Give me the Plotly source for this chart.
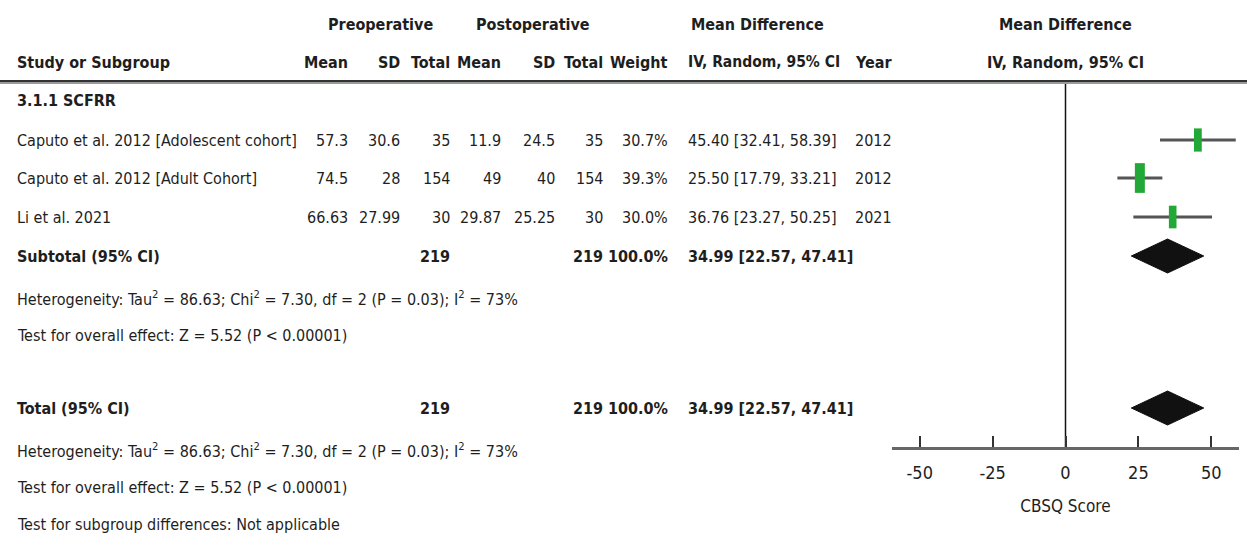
import plotly.graph_objects as go

# ---- study data -----------------------------------------------------------
studies = ["Caputo et al. 2012 [Adolescent cohort]",
           "Caputo et al. 2012 [Adult Cohort]",
           "Li et al. 2021"]
pre_mean = ["57.3", "74.5", "66.63"]
pre_sd = ["30.6", "28", "27.99"]
pre_n = [35, 154, 30]
post_mean = ["11.9", "49", "29.87"]
post_sd = ["24.5", "40", "25.25"]
post_n = [35, 154, 30]
weights = [30.7, 39.3, 30.0]
md = [45.40, 25.50, 36.76]
ci_lo = [32.41, 17.79, 23.27]
ci_hi = [58.39, 33.21, 50.25]
years = ["2012", "2012", "2021"]

pooled_md = 34.99
pooled_lo = 22.57
pooled_hi = 47.41

tick_vals = [-50, -25, 0, 25, 50]
tick_text = ["-50", "-25", "0", "25", "50"]

subgroup_name = "3.1.1 SCFRR"
het_text = ("Heterogeneity: Tau<sup>2</sup> = 86.63; Chi<sup>2</sup> = 7.30, "
            "df = 2 (P = 0.03); I<sup>2</sup> = 73%")
overall_text = "Test for overall effect: Z = 5.52 (P < 0.00001)"
subgroup_diff_text = "Test for subgroup differences: Not applicable"

# ---- layout geometry (pixels) --------------------------------------------
W, H = 1247, 546
FONT = "DejaVu Sans Condensed, Roboto, Liberation Sans, sans-serif"
TXT = "#1e1e1e"
FS = 16

y_head1, y_head2, y_rule = 24, 62, 82
y_group = 100
y_rows = [140, 178, 217]
y_sub = 256
y_het1, y_eff1 = 298, 335
y_tot = 408
y_het2, y_eff2, y_diff = 450, 487, 524
y_axis = 448

forest_left, forest_right = 892, 1239

# column anchors (pixel x)
col_label = 15
col_pre_mean, col_pre_sd, col_pre_n = 350, 402, 452
col_post_mean, col_post_sd, col_post_n = 503, 557, 605
col_weight = 670
col_ci = 686
col_year = 853

fig = go.Figure()

annotations = []


def txt(x, y, s, anchor="left", bold=False, size=FS):
    if bold:
        s = "<b>" + s + "</b>"
    annotations.append(dict(
        x=x / W, y=y, xref="paper", yref="y", text=s, showarrow=False,
        xanchor=anchor, yanchor="middle",
        font=dict(family=FONT, size=size, color=TXT)))


# headers
txt(380, y_head1, "Preoperative", "center", True)
txt(533, y_head1, "Postoperative", "center", True)
txt(757, y_head1, "Mean Difference", "center", True)
txt(1065, y_head1, "Mean Difference", "center", True)

txt(col_label, y_head2, "Study or Subgroup", bold=True)
txt(col_pre_mean, y_head2, "Mean", "right", True)
txt(col_pre_sd, y_head2, "SD", "right", True)
txt(col_pre_n, y_head2, "Total", "right", True)
txt(col_post_mean, y_head2, "Mean", "right", True)
txt(col_post_sd, y_head2, "SD", "right", True)
txt(col_post_n, y_head2, "Total", "right", True)
txt(col_weight, y_head2, "Weight", "right", True)
txt(col_ci, y_head2, "IV, Random, 95% CI", bold=True, size=15.5)
txt(col_year, y_head2, "Year", bold=True)
txt(1065, y_head2, "IV, Random, 95% CI", "center", True)

txt(col_label, y_group, subgroup_name, bold=True)

# study rows
for i, y in enumerate(y_rows):
    txt(col_label, y, studies[i])
    txt(col_pre_mean, y, pre_mean[i], "right")
    txt(col_pre_sd, y, pre_sd[i], "right")
    txt(col_pre_n, y, str(pre_n[i]), "right")
    txt(col_post_mean, y, post_mean[i], "right")
    txt(col_post_sd, y, post_sd[i], "right")
    txt(col_post_n, y, str(post_n[i]), "right")
    txt(col_weight, y, f"{weights[i]:.1f}%", "right")
    txt(col_ci, y, f"{md[i]:.2f} [{ci_lo[i]:.2f}, {ci_hi[i]:.2f}]")
    txt(col_year, y, years[i])

pooled_ci_text = f"{pooled_md:.2f} [{pooled_lo:.2f}, {pooled_hi:.2f}]"
total_w = f"{sum(weights):.1f}%"

for y, label in [(y_sub, "Subtotal (95% CI)"), (y_tot, "Total (95% CI)")]:
    txt(col_label, y, label, bold=True)
    txt(col_pre_n, y, str(sum(pre_n)), "right", True)
    txt(col_post_n, y, str(sum(post_n)), "right", True)
    txt(col_weight, y, total_w, "right", True)
    txt(col_ci, y, pooled_ci_text, bold=True)

txt(col_label, y_het1, het_text)
txt(col_label, y_eff1, overall_text)
txt(col_label, y_het2, het_text)
txt(col_label, y_eff2, overall_text)
txt(col_label, y_diff, subgroup_diff_text)

# ---- forest marks ----------------------------------------------------------
# vertical line of no effect
fig.add_trace(go.Scatter(x=[0, 0], y=[y_rule, y_axis], mode="lines",
                         line=dict(color="#111111", width=1.5),
                         hoverinfo="skip", showlegend=False))

# confidence interval whiskers
for i, y in enumerate(y_rows):
    fig.add_trace(go.Scatter(x=[ci_lo[i], ci_hi[i]], y=[y, y], mode="lines",
                             line=dict(color="#555555", width=3),
                             hoverinfo="skip", showlegend=False))

# study weight boxes (tall rectangles, height scaled with weight)
box_h = [w * 0.54 for w in weights]
box_w = [h * 0.47 for h in box_h]
fig.add_trace(go.Scatter(
    x=md, y=y_rows, mode="markers",
    marker=dict(symbol="line-ns", size=box_h, opacity=1,
                line=dict(width=box_w, color="#22a836")),
    hoverinfo="skip", showlegend=False))

# pooled diamonds
half_h = 17
for y in (y_sub, y_tot):
    fig.add_trace(go.Scatter(
        x=[pooled_lo, pooled_md, pooled_hi, pooled_md, pooled_lo],
        y=[y, y - half_h, y, y + half_h, y],
        mode="lines", fill="toself", fillcolor="#111111",
        line=dict(color="#111111", width=1),
        hoverinfo="skip", showlegend=False))

# ---- table rule lines ------------------------------------------------------
shapes = [
    dict(type="line", xref="paper", yref="y", x0=0, x1=1,
         y0=y_rule - 1, y1=y_rule - 1, line=dict(color="#333333", width=2)),
    dict(type="line", xref="paper", yref="y", x0=0, x1=1,
         y0=y_rule + 1, y1=y_rule + 1, line=dict(color="#9a9a9a", width=2)),
]

fig.update_layout(
    width=W, height=H,
    margin=dict(l=0, r=0, t=0, b=0),
    paper_bgcolor="white", plot_bgcolor="white",
    annotations=annotations, shapes=shapes,
    xaxis=dict(
        domain=[forest_left / W, forest_right / W],
        range=[-59.5, 59.5],
        anchor="free", position=(H - y_axis) / H,
        showline=True, linecolor="#666666", linewidth=3,
        ticks="inside", ticklen=11, tickwidth=1.5, tickcolor="#333333",
        tickvals=tick_vals, ticktext=tick_text, ticklabelstandoff=7,
        tickfont=dict(family=FONT, size=FS + 2, color=TXT),
        title=dict(text="CBSQ Score", standoff=18,
                   font=dict(family=FONT, size=FS + 1, color=TXT)),
        showgrid=False, zeroline=False, fixedrange=True,
    ),
    yaxis=dict(domain=[0, 1], range=[H, 0], visible=False, fixedrange=True),
)

fig.write_html("out.html")
